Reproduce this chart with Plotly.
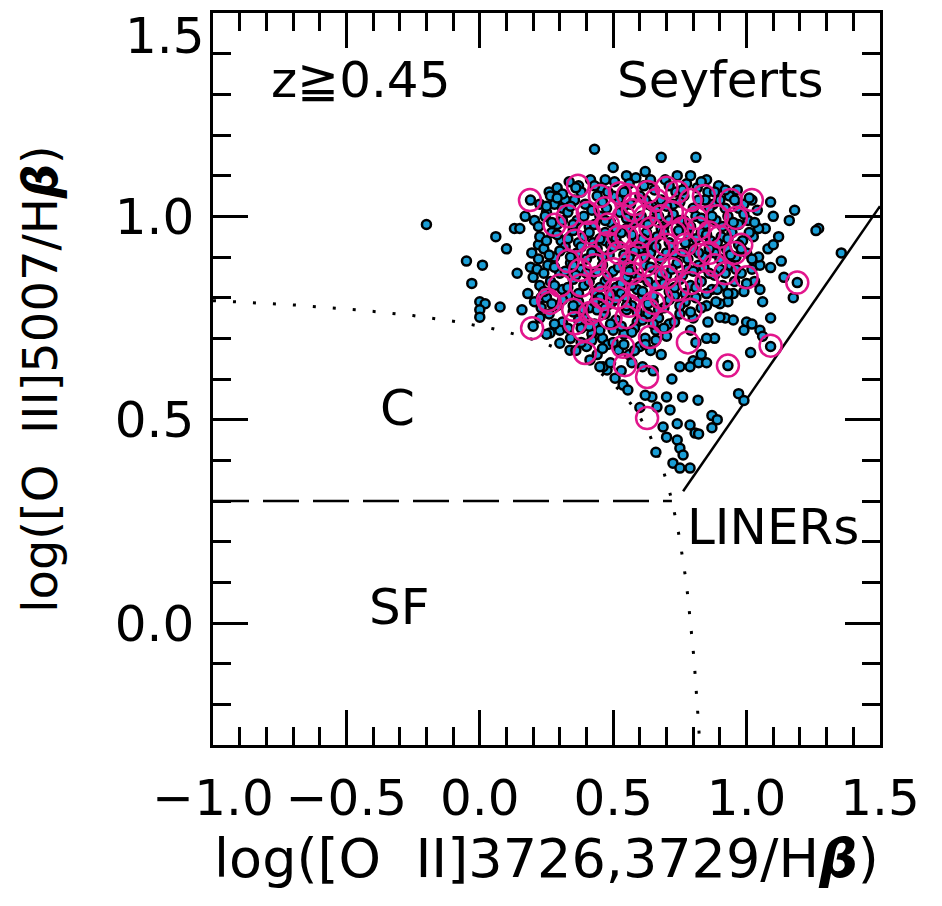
import plotly.graph_objects as go

# ---------------- data ----------------
cyan_points = [
    # isolated / left side
    (-0.20, 0.98), (-0.05, 0.89), (0.01, 0.88), (-0.03, 0.835), (0.00, 0.79), (0.02, 0.785),
    (0.00, 0.77), (0.00, 0.752), (0.076, 0.777), (0.06, 0.95), (0.10, 0.92), (0.13, 0.97),
    (0.15, 0.97), (0.14, 0.86), (0.19, 0.875), (0.20, 0.85), (0.158, 0.77), (0.26, 1.06),
    (0.19, 1.04), (0.32, 1.04), (0.28, 1.03), (0.17, 1.00), (0.25, 1.01), (0.20, 0.73),
    (0.23, 0.80), (0.18, 0.81), (0.22, 0.93),
    # top outliers
    (0.43, 1.165), (0.50, 1.12), (0.55, 1.10), (0.47, 1.09), (0.37, 1.075), (0.68, 1.145),
    (0.81, 1.145), (0.62, 1.11), (0.74, 1.10),
    # right side, sparse
    (1.02, 1.04), (1.09, 1.035), (1.18, 1.015), (1.16, 0.99), (1.27, 0.97), (1.26, 0.965),
    (1.355, 0.91), (1.19, 0.837), (1.175, 0.80), (1.09, 0.874), (1.14, 0.85), (1.03, 0.84),
    (1.05, 0.82), (1.06, 0.79), (1.00, 0.835), (0.95, 0.81), (0.93, 0.79), (0.90, 0.785),
    (0.92, 0.75), (0.95, 0.745), (1.00, 0.74), (1.02, 0.735), (1.09, 0.75), (1.12, 0.95),
    (1.10, 1.00), (1.08, 0.92), (1.13, 0.89), (1.07, 0.97), (1.10, 0.93), (1.05, 0.88),
    # lower right, sparse
    (0.88, 0.70), (0.90, 0.752), (0.99, 0.72), (1.05, 0.72), (1.06, 0.705), (1.09, 0.68),
    (1.015, 0.665), (0.93, 0.633), (0.80, 0.645), (0.82, 0.64), (0.85, 0.64), (0.83, 0.66),
    (0.97, 0.564), (0.99, 0.547), (0.818, 0.548), (0.76, 0.556), (0.70, 0.556), (0.645, 0.556),
    (0.664, 0.531), (0.713, 0.524), (0.687, 0.482), (0.74, 0.49), (0.788, 0.487), (0.70, 0.457),
    (0.74, 0.45), (0.75, 0.43), (0.762, 0.413), (0.724, 0.393), (0.75, 0.381), (0.788, 0.381),
    (0.788, 0.63), (0.807, 0.467), (0.87, 0.51), (0.89, 0.50), (0.87, 0.48), (0.82, 0.465),
    (0.66, 0.42), (0.72, 0.60), (0.75, 0.63), (0.81, 0.69), (0.79, 0.72), (0.85, 0.70),
    # lower left edge
    (0.477, 0.622), (0.507, 0.602), (0.537, 0.585), (0.555, 0.573), (0.263, 0.713),
    (0.30, 0.688), (0.338, 0.671), (0.413, 0.647), (0.462, 0.63), (0.60, 0.53), (0.62, 0.56),
    # dense core
    (0.29, 1.07), (0.335, 1.085), (0.38, 1.06), (0.415, 1.09), (0.455, 1.07), (0.505, 1.085),
    (0.54, 1.06), (0.585, 1.095), (0.615, 1.075), (0.655, 1.065), (0.695, 1.09), (0.735, 1.06),
    (0.775, 1.08), (0.815, 1.07), (0.855, 1.06), (0.895, 1.075), (0.935, 1.05), (0.965, 1.065),
    (0.79, 1.10), (0.85, 1.09),
    (0.225, 1.03), (0.265, 1.05), (0.31, 1.02), (0.355, 1.04), (0.395, 1.03), (0.44, 1.05),
    (0.475, 1.02), (0.52, 1.04), (0.565, 1.03), (0.60, 1.05), (0.645, 1.025), (0.68, 1.04),
    (0.725, 1.03), (0.765, 1.05), (0.80, 1.02), (0.845, 1.04), (0.875, 1.03), (0.92, 1.02),
    (0.955, 1.04), (0.99, 1.03), (1.04, 1.015),
    (0.205, 0.99), (0.245, 1.00), (0.29, 0.98), (0.33, 1.01), (0.365, 0.99), (0.41, 0.975),
    (0.45, 1.00), (0.49, 0.985), (0.525, 1.01), (0.57, 0.98), (0.605, 1.00), (0.645, 0.99),
    (0.69, 0.975), (0.725, 1.005), (0.765, 0.99), (0.81, 1.00), (0.845, 0.98), (0.885, 0.99),
    (0.93, 1.00), (0.97, 0.98), (1.005, 0.99), (1.045, 0.97),
    (0.225, 0.95), (0.27, 0.96), (0.305, 0.94), (0.35, 0.965), (0.39, 0.95), (0.425, 0.935),
    (0.47, 0.96), (0.51, 0.945), (0.55, 0.97), (0.59, 0.94), (0.625, 0.96), (0.665, 0.95),
    (0.71, 0.935), (0.745, 0.965), (0.785, 0.95), (0.83, 0.96), (0.865, 0.94), (0.905, 0.95),
    (0.945, 0.96), (0.985, 0.94), (1.025, 0.95),
    (0.195, 0.91), (0.24, 0.92), (0.28, 0.90), (0.32, 0.925), (0.365, 0.91), (0.40, 0.895),
    (0.44, 0.92), (0.485, 0.905), (0.52, 0.93), (0.56, 0.90), (0.60, 0.92), (0.64, 0.91),
    (0.68, 0.895), (0.72, 0.925), (0.76, 0.91), (0.80, 0.92), (0.84, 0.90), (0.88, 0.91),
    (0.925, 0.92), (0.96, 0.90), (1.00, 0.91), (1.045, 0.90),
    (0.215, 0.87), (0.255, 0.88), (0.30, 0.86), (0.34, 0.885), (0.38, 0.87), (0.42, 0.855),
    (0.46, 0.88), (0.50, 0.865), (0.54, 0.89), (0.58, 0.86), (0.62, 0.88), (0.66, 0.87),
    (0.70, 0.855), (0.74, 0.885), (0.78, 0.87), (0.82, 0.88), (0.86, 0.86), (0.90, 0.87),
    (0.94, 0.88), (0.98, 0.86), (1.02, 0.87),
    (0.225, 0.83), (0.265, 0.84), (0.31, 0.82), (0.35, 0.845), (0.39, 0.83), (0.43, 0.815),
    (0.47, 0.84), (0.51, 0.825), (0.55, 0.85), (0.59, 0.82), (0.63, 0.84), (0.67, 0.83),
    (0.71, 0.815), (0.75, 0.845), (0.79, 0.83), (0.83, 0.84), (0.87, 0.82), (0.91, 0.83),
    (0.955, 0.84), (0.99, 0.815),
    (0.205, 0.79), (0.25, 0.80), (0.29, 0.78), (0.33, 0.805), (0.37, 0.79), (0.41, 0.775),
    (0.45, 0.80), (0.49, 0.785), (0.53, 0.81), (0.57, 0.78), (0.61, 0.80), (0.65, 0.79),
    (0.69, 0.775), (0.73, 0.805), (0.77, 0.79), (0.81, 0.80), (0.85, 0.78), (0.885, 0.79),
    (0.225, 0.75), (0.26, 0.76), (0.31, 0.74), (0.35, 0.765), (0.39, 0.75), (0.43, 0.735),
    (0.47, 0.76), (0.51, 0.745), (0.55, 0.77), (0.59, 0.74), (0.63, 0.76), (0.67, 0.75),
    (0.71, 0.735), (0.75, 0.76), (0.80, 0.75), (0.855, 0.74),
    (0.25, 0.71), (0.30, 0.72), (0.34, 0.70), (0.38, 0.725), (0.42, 0.71), (0.46, 0.70),
    (0.50, 0.72), (0.54, 0.71), (0.58, 0.725), (0.62, 0.70), (0.66, 0.72), (0.70, 0.705),
    (0.36, 0.67), (0.40, 0.68), (0.44, 0.66), (0.48, 0.685), (0.52, 0.67), (0.56, 0.66),
    (0.60, 0.68), (0.64, 0.67), (0.68, 0.66),
    (0.45, 0.63), (0.49, 0.64), (0.53, 0.62), (0.57, 0.64), (0.61, 0.63), (0.65, 0.62),
    (0.43, 0.98), (0.47, 0.94), (0.53, 0.96), (0.58, 0.99), (0.62, 0.93), (0.68, 0.97),
    (0.73, 0.91), (0.57, 0.87), (0.46, 0.90), (0.63, 1.03), (0.50, 1.05), (0.40, 0.86),
    (0.75, 0.99), (0.66, 0.83), (0.55, 0.80), (0.44, 0.77), (0.35, 0.88), (0.31, 0.99),
    # dense core, in-between
    (0.31, 1.055), (0.36, 1.07), (0.43, 1.075), (0.48, 1.06), (0.56, 1.08), (0.64, 1.09),
    (0.71, 1.075), (0.76, 1.065), (0.83, 1.085), (0.88, 1.06), (0.92, 1.065),
    (0.25, 1.025), (0.29, 1.045), (0.34, 1.025), (0.42, 1.015), (0.46, 1.035), (0.54, 1.025),
    (0.62, 1.04), (0.66, 1.015), (0.70, 1.025), (0.75, 1.035), (0.82, 1.04), (0.86, 1.02),
    (0.90, 1.04), (0.97, 1.02), (1.01, 1.045),
    (0.22, 0.975), (0.27, 0.985), (0.35, 0.98), (0.39, 1.00), (0.47, 0.99), (0.51, 0.97),
    (0.55, 0.995), (0.63, 0.98), (0.67, 1.00), (0.71, 0.99), (0.79, 0.975), (0.83, 0.995),
    (0.87, 1.00), (0.91, 0.975), (0.95, 0.985), (0.99, 1.005), (1.03, 0.985),
    (0.25, 0.94), (0.29, 0.955), (0.33, 0.945), (0.37, 0.935), (0.41, 0.96), (0.45, 0.945),
    (0.49, 0.93), (0.57, 0.955), (0.61, 0.945), (0.65, 0.935), (0.69, 0.96), (0.77, 0.935),
    (0.81, 0.945), (0.85, 0.955), (0.89, 0.935), (0.93, 0.945), (0.97, 0.93), (1.01, 0.96),
    (0.22, 0.895), (0.26, 0.905), (0.30, 0.915), (0.34, 0.90), (0.38, 0.925), (0.42, 0.91),
    (0.50, 0.925), (0.54, 0.905), (0.58, 0.915), (0.62, 0.90), (0.66, 0.925), (0.70, 0.91),
    (0.78, 0.895), (0.82, 0.91), (0.86, 0.92), (0.90, 0.895), (0.94, 0.905), (0.98, 0.92),
    (1.02, 0.895),
    (0.24, 0.86), (0.28, 0.875), (0.32, 0.865), (0.36, 0.855), (0.44, 0.865), (0.48, 0.85),
    (0.52, 0.875), (0.56, 0.865), (0.60, 0.85), (0.64, 0.875), (0.68, 0.86), (0.72, 0.87),
    (0.76, 0.855), (0.80, 0.865), (0.84, 0.875), (0.88, 0.855), (0.92, 0.86), (0.96, 0.87),
    (0.24, 0.815), (0.28, 0.83), (0.33, 0.825), (0.37, 0.81), (0.41, 0.84), (0.45, 0.825),
    (0.49, 0.81), (0.53, 0.835), (0.57, 0.83), (0.61, 0.815), (0.65, 0.805), (0.69, 0.835),
    (0.73, 0.825), (0.77, 0.81), (0.81, 0.825), (0.85, 0.81), (0.89, 0.82), (0.93, 0.81),
    (0.23, 0.775), (0.27, 0.785), (0.31, 0.795), (0.35, 0.78), (0.39, 0.77), (0.43, 0.79),
    (0.47, 0.775), (0.51, 0.795), (0.55, 0.78), (0.59, 0.765), (0.63, 0.785), (0.67, 0.77),
    (0.71, 0.795), (0.75, 0.78), (0.79, 0.765), (0.83, 0.775),
    (0.28, 0.735), (0.33, 0.725), (0.37, 0.745), (0.41, 0.73), (0.45, 0.72), (0.49, 0.735),
    (0.53, 0.73), (0.57, 0.715), (0.61, 0.745), (0.65, 0.735), (0.69, 0.725), (0.73, 0.74),
    (0.38, 0.69), (0.42, 0.695), (0.46, 0.675), (0.50, 0.69), (0.54, 0.685), (0.58, 0.67),
    (0.62, 0.685), (0.66, 0.695),
]

magenta_points = [
    (0.188, 1.04), (0.368, 1.075), (0.28, 0.979), (0.256, 0.794), (0.196, 0.725), (0.394, 0.664),
    (0.357, 0.737), (0.537, 0.679), (0.544, 0.634), (0.627, 0.605), (0.78, 0.69), (0.627, 0.504),
    (0.93, 0.633), (1.09, 0.682), (1.19, 0.837), (1.02, 1.04), (1.00, 0.85),
    (0.555, 1.052), (0.63, 1.06), (0.70, 1.07), (0.74, 1.06), (0.81, 0.996), (0.89, 1.00),
    (0.96, 0.996), (0.956, 0.91), (0.825, 0.905), (0.74, 0.82), (0.79, 0.836), (0.65, 0.787),
    (0.79, 0.77), (0.51, 0.82), (0.49, 0.75),
    (0.357, 0.94), (0.405, 1.008), (0.376, 0.868), (0.45, 0.843), (0.30, 0.83), (0.35, 0.77),
    (0.44, 0.77), (0.515, 0.80), (0.525, 1.057), (0.574, 1.015), (0.60, 0.95), (0.477, 0.934),
    (0.563, 0.885), (0.263, 0.787), (0.413, 0.762), (0.55, 0.752), (0.638, 0.703),
    (0.45, 1.05), (0.68, 1.00), (0.70, 0.93), (0.62, 0.88), (0.55, 0.95), (0.48, 0.98),
    (0.66, 0.85), (0.73, 0.96), (0.86, 0.96), (0.88, 0.88), (0.42, 0.90), (0.58, 1.03),
    (0.64, 0.97), (0.77, 0.93), (0.52, 0.91), (0.72, 0.87), (0.84, 1.05), (0.94, 1.04),
    (0.60, 0.82), (0.68, 0.80),
    (0.33, 1.00), (0.38, 0.83), (0.46, 0.80), (0.50, 0.87), (0.54, 1.00), (0.59, 0.91),
    (0.63, 0.77), (0.67, 0.92), (0.70, 0.85), (0.75, 0.89), (0.79, 1.04), (0.82, 0.97),
    (0.86, 0.91), (0.90, 0.95), (0.92, 0.86), (0.98, 0.93), (0.41, 0.96), (0.47, 1.02),
    (0.52, 0.95), (0.57, 0.86), (0.62, 1.00), (0.66, 1.04), (0.72, 1.01), (0.76, 0.97),
    (0.85, 0.84), (0.43, 0.88), (0.56, 0.78), (0.69, 0.74), (0.33, 0.89), (0.39, 0.72),
]

cyan_x = [p[0] for p in cyan_points]
cyan_y = [p[1] for p in cyan_points]
mag_x = [p[0] for p in magenta_points]
mag_y = [p[1] for p in magenta_points]

# classification lines (Lamareille 2010)
curve_a, curve_b, curve_c = 0.11, 0.92, 0.85      # y = a/(x-b) + c
liner_slope, liner_icpt = 0.95, -0.40            # y = slope*x + icpt
sf_limit = 0.3
x_tick_vals = [-1.0, -0.5, 0.0, 0.5, 1.0, 1.5]
x_tick_text = ["\u22121.0", "\u22120.5", "0.0", "0.5", "1.0", "1.5"]
y_tick_vals = [0.0, 0.5, 1.0, 1.5]
y_tick_text = ["0.0", "0.5", "1.0", ""]
y_top_label = "1.5"

curve_x = []
xv = -1.0
while xv < 0.80:
    curve_x.append(round(xv, 4))
    xv += 0.01
xv = 0.80
while xv <= 0.8245:
    curve_x.append(round(xv, 4))
    xv += 0.002
curve_y = [curve_a / (x - curve_b) + curve_c for x in curve_x]
dash_end = curve_b + curve_a / (sf_limit - curve_c)
liner_x = [0.762, 1.5]
liner_y = [liner_slope * x + liner_icpt for x in liner_x]

FONT = "DejaVu Sans"
fig = go.Figure()

fig.add_trace(go.Scatter(x=curve_x, y=curve_y, mode="lines",
                         line=dict(color="black", width=3, dash="3px,17px"), hoverinfo="skip"))
fig.add_trace(go.Scatter(x=[-1.0, dash_end], y=[sf_limit, sf_limit], mode="lines",
                         line=dict(color="black", width=2.5, dash="36px,14px"), hoverinfo="skip"))
fig.add_trace(go.Scatter(x=liner_x, y=liner_y, mode="lines",
                         line=dict(color="black", width=2.5), hoverinfo="skip"))

fig.add_trace(go.Scatter(x=cyan_x, y=cyan_y, mode="markers",
                         marker=dict(size=9, color="#1A9ED6", line=dict(color="black", width=2.5))))
fig.add_trace(go.Scatter(x=mag_x, y=mag_y, mode="markers",
                         marker=dict(size=22, symbol="circle-open", color="#E2168C",
                                     line=dict(color="#E2168C", width=2.5))))

labels = [("z\u22670.45", -0.449, 1.335), ("Seyferts", 0.904, 1.335), ("C", -0.307, 0.529),
          ("SF", -0.30, 0.04), ("LINERs", 1.099, 0.236)]
for t, x, y in labels:
    fig.add_annotation(x=x, y=y, text=t, showarrow=False, xref="x", yref="y",
                       font=dict(family=FONT, size=50, color="black"))

# top y tick label sits just below the frame in the original
fig.add_annotation(x=0, y=1.5, xref="paper", yref="y", text=y_top_label, showarrow=False,
                   xanchor="right", yanchor="top", xshift=-6, yshift=8,
                   font=dict(family=FONT, size=50, color="black"))

axis_common = dict(showline=True, linewidth=2.5, linecolor="black", mirror="allticks",
                   ticks="inside", ticklen=35, tickwidth=2.5, tickcolor="black",
                   showgrid=False, zeroline=False,
                   tickfont=dict(family=FONT, size=50, color="black"))

fig.update_xaxes(range=[-1.0, 1.5], tickmode="array", tickvals=x_tick_vals, ticktext=x_tick_text,
                 minor=dict(ticks="inside", ticklen=18, tickwidth=2.5, tickcolor="black",
                            dtick=0.1, tick0=-1.0, showgrid=False),
                 title=dict(text="log([O\u00a0\u00a0II]3726,3729/H<b><i>\u03b2</i></b>)",
                            font=dict(family=FONT, size=54, color="black"), standoff=14),
                 ticklabelstandoff=7, **axis_common)
fig.update_yaxes(range=[-0.3, 1.5], tickmode="array", tickvals=y_tick_vals, ticktext=y_tick_text,
                 minor=dict(ticks="inside", ticklen=18, tickwidth=2.5, tickcolor="black",
                            dtick=0.1, tick0=0.0, showgrid=False),
                 title=dict(text="log([O\u00a0\u00a0III]5007/H<b><i>\u03b2</i></b>)",
                            font=dict(family=FONT, size=48, color="black"), standoff=42),
                 ticklabelstandoff=6, **axis_common)

fig.update_layout(width=942, height=906, margin=dict(l=213, r=62, t=13, b=161, autoexpand=False),
                  plot_bgcolor="white", paper_bgcolor="white", showlegend=False,
                  font=dict(family=FONT, size=48, color="black"))

fig.write_html("out.html")
